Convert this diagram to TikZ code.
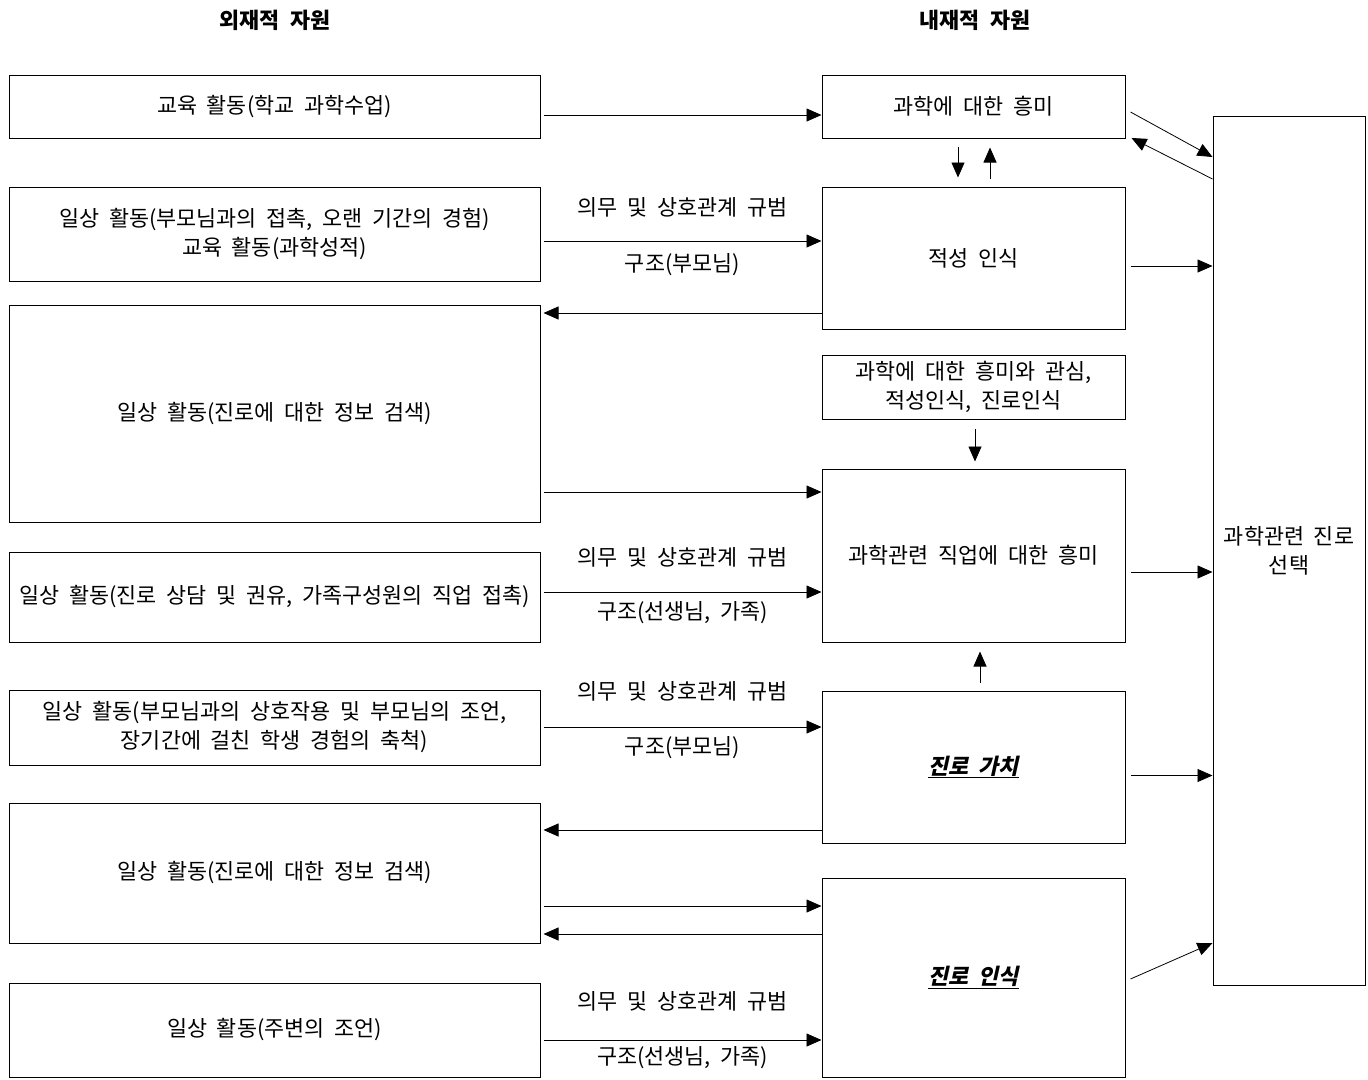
\documentclass[tikz,border=0pt]{standalone}
\usepackage{fontspec}
\setmainfont[WordSpace=2]{Noto Sans CJK KR}
\newfontfamily\slantfont[FakeSlant=0.22,WordSpace=2]{Noto Sans CJK KR}
\usetikzlibrary{arrows.meta}
\begin{document}
\begin{tikzpicture}[x=1pt,y=-1pt,
  every node/.style={font=\fontsize{21.8}{29}\selectfont},
  box/.style={draw, line width=1pt, inner sep=0pt, align=center},
  lbox/.style={box, minimum width=531pt},
  mbox/.style={box, minimum width=303pt},
  arr/.style={line width=0.8pt, -{Triangle[length=15pt,width=13pt]}},
  lbl/.style={midway, inner sep=0pt},
  hdr/.style={font=\fontsize{21.8}{29}\selectfont\bfseries}]
\useasboundingbox (0,0) rectangle (1368,1079);
% headers
\node[hdr] (h1) at (275,20) {외재적 자원};
\node[hdr] (h2) at (975,20) {내재적 자원};
% left boxes
\node[lbox, minimum height=63pt] (L1) at (274.5,106.5) {교육 활동(학교 과학수업)};
\node[lbox, minimum height=94pt] (L2) at (274.5,234) {일상 활동(부모님과의 접촉, 오랜 기간의 경험)\\교육 활동(과학성적)};
\node[lbox, minimum height=217pt] (L3) at (274.5,413.5) {일상 활동(진로에 대한 정보 검색)};
\node[lbox, minimum height=90pt] (L4) at (274.5,597) {일상 활동(진로 상담 및 권유, 가족구성원의 직업 접촉)};
\node[lbox, minimum height=75pt] (L5) at (274.5,727.5) {일상 활동(부모님과의 상호작용 및 부모님의 조언,\\장기간에 걸친 학생 경험의 축척)};
\node[lbox, minimum height=140pt] (L6) at (274.5,873) {일상 활동(진로에 대한 정보 검색)};
\node[lbox, minimum height=94pt] (L7) at (274.5,1030) {일상 활동(주변의 조언)};
% middle boxes
\node[mbox, minimum height=63pt] (M1) at (973.5,106.5) {과학에 대한 흥미};
\node[mbox, minimum height=142pt] (M2) at (973.5,258) {적성 인식};
\node[mbox, minimum height=64pt] (M3) at (973.5,387) {과학에 대한 흥미와 관심,\\적성인식, 진로인식};
\node[mbox, minimum height=173pt] (M4) at (973.5,555.5) {과학관련 직업에 대한 흥미};
\node[mbox, minimum height=152pt] (M5) at (973.5,767) {{\slantfont\bfseries\underline{진로 가치}}};
\node[mbox, minimum height=199pt] (M6) at (973.5,977.5) {{\slantfont\bfseries\underline{진로 인식}}};
% right box
\node[box, minimum width=152pt, minimum height=869pt] (R) at (1289,550.5) {과학관련 진로\\선택};
% left -> middle
\draw[arr] ([shift={(3,8.5)}]L1.east) -- ([shift={(0,8.5)}]M1.west);
\draw[arr] ([shift={(3,7)}]L2.east) -- ([shift={(0,-17)}]M2.west)
  node[lbl, yshift=34pt] (t1) {의무 및 상호관계 규범}
  node[lbl, yshift=-24pt] (b1) {구조(부모님)};
\draw[arr] ([shift={(0,55)}]M2.west) -- ([shift={(3,-100.5)}]L3.east);
\draw[arr] ([shift={(3,78.5)}]L3.east) -- ([shift={(0,-63.5)}]M4.west);
\draw[arr] ([shift={(3,-5)}]L4.east) -- ([shift={(0,36.5)}]M4.west)
  node[lbl, yshift=35pt] (t2) {의무 및 상호관계 규범}
  node[lbl, yshift=-21pt] (b2) {구조(선생님, 가족)};
\draw[arr] ([shift={(3,-0.5)}]L5.east) -- ([shift={(0,-40)}]M5.west)
  node[lbl, yshift=36pt] (t3) {의무 및 상호관계 규범}
  node[lbl, yshift=-21pt] (b3) {구조(부모님)};
\draw[arr] ([shift={(0,63)}]M5.west) -- ([shift={(3,-43)}]L6.east);
\draw[arr] ([shift={(3,33)}]L6.east) -- ([shift={(0,-71.5)}]M6.west);
\draw[arr] ([shift={(0,-43.5)}]M6.west) -- ([shift={(3,61)}]L6.east);
\draw[arr] ([shift={(3,10)}]L7.east) -- ([shift={(0,62.5)}]M6.west)
  node[lbl, yshift=39pt] (t4) {의무 및 상호관계 규범}
  node[lbl, yshift=-18pt] (b4) {구조(선생님, 가족)};
% middle -> right
\draw[arr] ([shift={(5,5.5)}]M1.east) -- ([shift={(0,-393.5)}]R.west);
\draw[arr] ([shift={(0,-371.5)}]R.west) -- ([shift={(6,31.5)}]M1.east);
\draw[arr] ([shift={(5,8)}]M2.east) -- ([shift={(0,-284.5)}]R.west);
\draw[arr] ([shift={(5,16.5)}]M4.east) -- ([shift={(0,21.5)}]R.west);
\draw[arr] ([shift={(5,8.5)}]M5.east) -- ([shift={(0,225)}]R.west);
\draw[arr] ([shift={(5,1.5)}]M6.east) -- ([shift={(0,392.5)}]R.west);
% vertical
\draw[arr] ([shift={(-15.5,8)}]M1.south) -- ([shift={(-15.5,-9)}]M2.north);
\draw[arr] ([shift={(16.5,-8)}]M2.north) -- ([shift={(16.5,9)}]M1.south);
\draw[arr] ([shift={(1.5,9)}]M3.south) -- ([shift={(1.5,-7)}]M4.north);
\draw[arr] ([shift={(6.5,-8)}]M5.north) -- ([shift={(6.5,9)}]M4.south);
\end{tikzpicture}
\end{document}
